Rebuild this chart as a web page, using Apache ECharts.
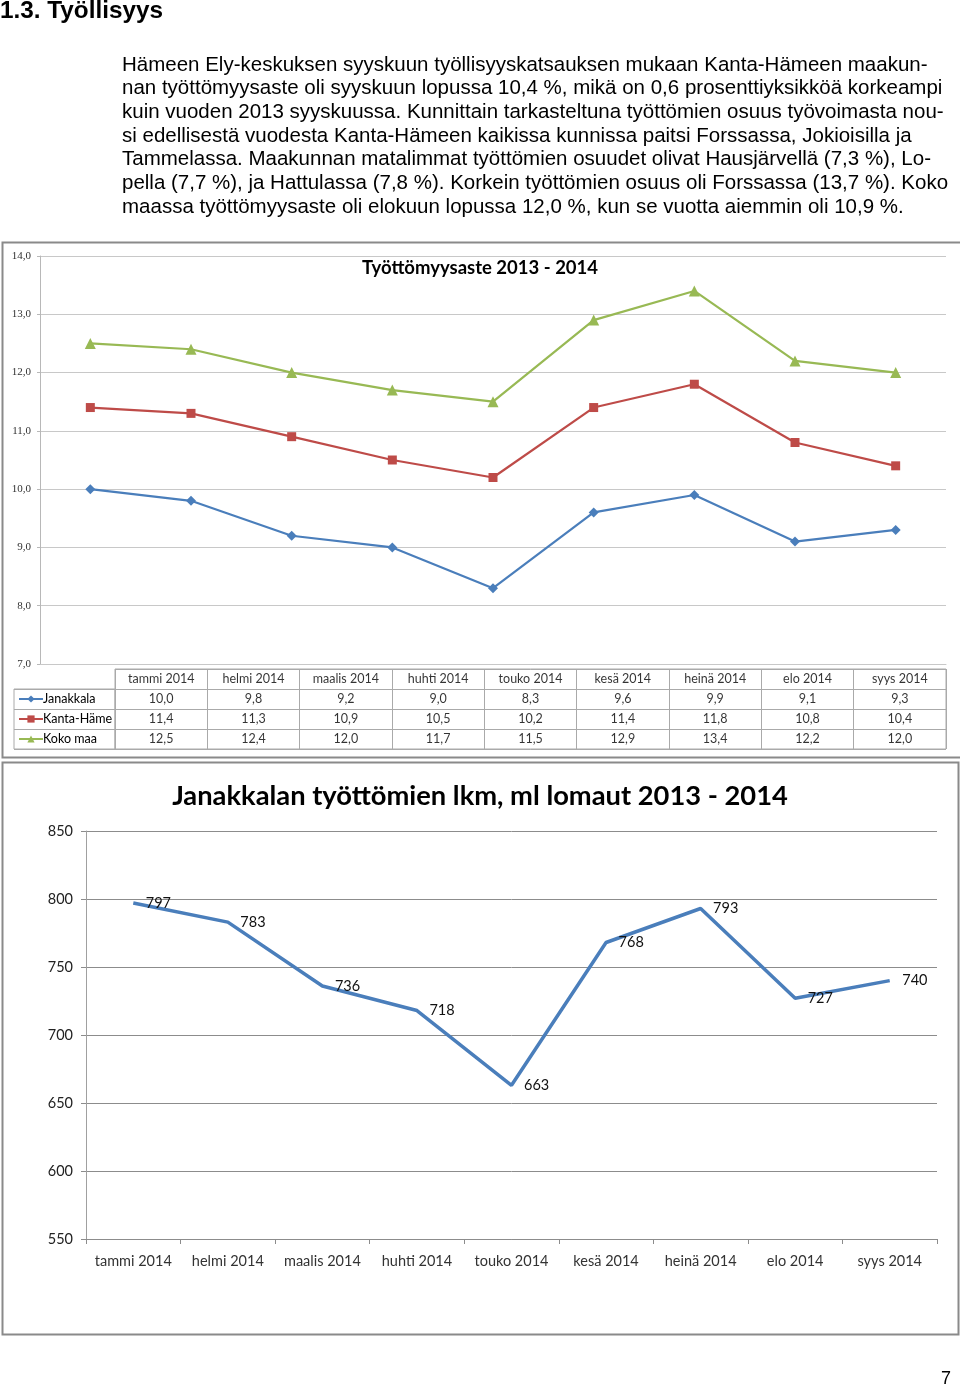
<!DOCTYPE html>
<html><head><meta charset="utf-8">
<script src="https://cdn.jsdelivr.net/npm/echarts@6/dist/echarts.min.js"></script>
<style>html,body{margin:0;padding:0;background:#fff}#c{width:960px;height:1390px}</style>
</head><body><div id="c"></div>
<script>
const months = ['tammi 2014','helmi 2014','maalis 2014','huhti 2014','touko 2014','kesä 2014','heinä 2014','elo 2014','syys 2014'];
const seriesNames = ['Janakkala','Kanta-Häme','Koko maa'];
const janakkala = [10.0, 9.8, 9.2, 9.0, 8.3, 9.6, 9.9, 9.1, 9.3];
const kantaHame = [11.4, 11.3, 10.9, 10.5, 10.2, 11.4, 11.8, 10.8, 10.4];
const kokoMaa = [12.5, 12.4, 12.0, 11.7, 11.5, 12.9, 13.4, 12.2, 12.0];
const janakkalaLkm = [797, 783, 736, 718, 663, 768, 793, 727, 740];
const paragraph = [
 'Hämeen Ely-keskuksen syyskuun työllisyyskatsauksen mukaan Kanta-Hämeen maakun-',
 'nan työttömyysaste oli syyskuun lopussa 10,4 %, mikä on 0,6 prosenttiyksikköä korkeampi',
 'kuin vuoden 2013 syyskuussa. Kunnittain tarkasteltuna työttömien osuus työvoimasta nou-',
 'si edellisestä vuodesta Kanta-Hämeen kaikissa kunnissa paitsi Forssassa, Jokioisilla ja',
 'Tammelassa. Maakunnan matalimmat työttömien osuudet olivat Hausjärvellä (7,3 %), Lo-',
 'pella (7,7 %), ja Hattulassa (7,8 %). Korkein työttömien osuus oli Forssassa (13,7 %). Koko',
 'maassa työttömyysaste oli elokuun lopussa 12,0 %, kun se vuotta aiemmin oli 10,9 %.'
];

const fmt = v => v.toFixed(1).replace('.', ',');
const colors = ['#4A7EBB', '#BE4B48', '#98B954'];
const symbols = ['diamond', 'rect', 'triangle'];
const rates = [janakkala, kantaHame, kokoMaa];
const sans = 'Liberation Sans, Arial, sans-serif';
const cal = 'Lato, Carlito, Calibri, sans-serif';

const graphic = [
  {type:'text', left:0, top:-1, style:{text:'1.3. Työllisyys', font:'bold 24.3px ' + sans, fill:'#000'}},
  {type:'rect', shape:{x:2.5, y:242.5, width:970, height:515}, style:{fill:'none', stroke:'#8a8a8a', lineWidth:2}, z:-1},
  {type:'rect', shape:{x:2.5, y:762.5, width:956, height:572}, style:{fill:'none', stroke:'#8a8a8a', lineWidth:2}, z:-1},
  {type:'text', left:941, top:1370, style:{text:'7', font:'18px ' + sans, fill:'#000'}}
];
paragraph.forEach((t, i) => {
  graphic.push({type:'text', x:122, y:65 + i * 23.7, style:{text:t, font:'20.5px ' + sans, fill:'#000', verticalAlign:'middle'}});
});

const series = [];
seriesNames.forEach((n, k) => {
  series.push({
    name:n, type:'line', xAxisIndex:0, yAxisIndex:0, data:rates[k],
    symbol:symbols[k], symbolSize: k === 1 ? 9 : (k === 2 ? 11 : 10),
    lineStyle:{color:colors[k], width:2.2}, itemStyle:{color:colors[k]},
    emphasis:{disabled:true}
  });
});
// table header row
series.push({
  type:'scatter', xAxisIndex:1, yAxisIndex:1, symbolSize:0, silent:true,
  data: months.map(m => [m, 'h']),
  label:{show:true, position:'inside', formatter:p => p.value[0], fontFamily:cal, fontSize:12.5, color:'#000'}
});
seriesNames.forEach((n, k) => {
  series.push({
    type:'scatter', xAxisIndex:1, yAxisIndex:1, symbolSize:0, silent:true,
    data: rates[k].map((v, i) => [months[i], n, v]),
    label:{show:true, position:'inside', formatter:p => fmt(p.value[2]), fontFamily:cal, fontSize:12.5, color:'#000'}
  });
});
// chart 2
series.push({
  name:'lkm', type:'line', xAxisIndex:3, yAxisIndex:3, data:janakkalaLkm,
  symbol:'circle', symbolSize:1, showSymbol:true, itemStyle:{color:'rgba(0,0,0,0)'},
  lineStyle:{color:'#4A7EBB', width:3.5},
  label:{show:true, position:'right', distance:12, fontFamily:cal, fontSize:14.5, color:'#111'},
  labelLayout:{hideOverlap:false},
  emphasis:{disabled:true}
});

const option = {
  animation:false,
  backgroundColor:'#fff',
  title:[
    {text:'Työttömyysaste 2013 - 2014', left:'center', top:254, textStyle:{fontFamily:cal, fontWeight:'bold', fontSize:18.5, color:'#000'}},
    {text:'Janakkalan työttömien lkm, ml lomaut 2013 - 2014', left:'center', top:778, textStyle:{fontFamily:cal, fontWeight:'bold', fontSize:27.3, color:'#000'}}
  ],
  legend:{
    data:seriesNames, orient:'vertical', left:13, top:684, itemGap:0, itemWidth:24, itemHeight:9,
    textStyle:{fontFamily:cal, fontSize:12.5, color:'#000', lineHeight:20, padding:[0,0,0,-5]},
    selectedMode:false
  },
  grid:[
    {left:40, top:256, width:906, height:408},
    {left:115, top:669, width:831, height:80, show:true, borderColor:'#aaa', borderWidth:1},
    {left:14, top:689, width:101, height:60, show:true, borderColor:'#aaa', borderWidth:1},
    {left:86, top:831, width:851, height:408}
  ],
  xAxis:[
    {gridIndex:0, type:'category', data:months, axisLabel:{show:false}, axisTick:{show:false}, axisLine:{lineStyle:{color:'#c8c8c8'}}},
    {gridIndex:1, type:'category', data:months, axisLabel:{show:false}, axisTick:{show:false}, axisLine:{show:false}, splitLine:{show:true, interval:0, lineStyle:{color:'#aaa'}}},
    {gridIndex:2, type:'category', data:['a'], show:false},
    {gridIndex:3, type:'category', data:months, axisLine:{lineStyle:{color:'#8c8c8c'}}, axisTick:{show:true, length:5, lineStyle:{color:'#8c8c8c'}}, axisLabel:{fontFamily:cal, fontSize:14.5, color:'#333', margin:15, interval:0}}
  ],
  yAxis:[
    {gridIndex:0, type:'value', min:7, max:14, interval:1, axisLine:{show:true, lineStyle:{color:'#b8b8b8'}}, axisTick:{show:true, length:3, lineStyle:{color:'#b8b8b8'}},
     splitLine:{lineStyle:{color:'#c8c8c8'}}, axisLabel:{formatter:v => fmt(v), fontFamily:'Liberation Serif, serif', fontSize:11, color:'#333', margin:9}},
    {gridIndex:1, type:'category', data:['h'].concat(seriesNames), inverse:true, axisLabel:{show:false}, axisTick:{show:false}, axisLine:{show:false}, splitLine:{show:true, interval:0, lineStyle:{color:'#aaa'}}},
    {gridIndex:2, type:'category', data:seriesNames, inverse:true, axisLabel:{show:false}, axisTick:{show:false}, axisLine:{show:false}, splitLine:{show:true, interval:0, lineStyle:{color:'#aaa'}}},
    {gridIndex:3, type:'value', min:550, max:850, interval:50, axisLine:{show:true, lineStyle:{color:'#a0a0a0'}}, axisTick:{show:true, length:5, lineStyle:{color:'#8c8c8c'}},
     splitLine:{lineStyle:{color:'#8c8c8c'}}, axisLabel:{fontFamily:cal, fontSize:14.5, color:'#222', margin:13}}
  ],
  series:series,
  graphic:graphic
};
const chart = echarts.init(document.getElementById('c'), null, {renderer:'canvas'});
chart.setOption(option);
</script></body></html>
